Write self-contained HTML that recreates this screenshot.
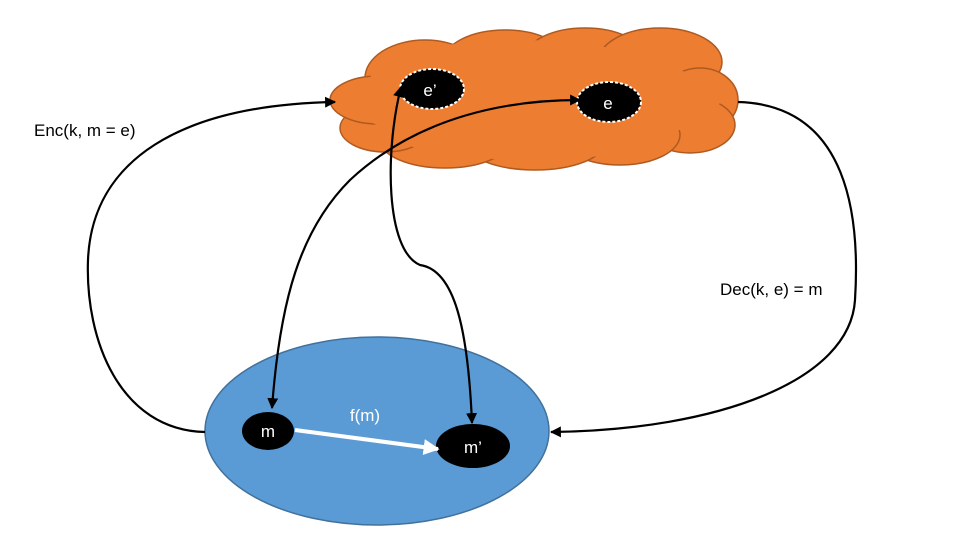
<!DOCTYPE html>
<html><head><meta charset="utf-8"><style>body{margin:0;background:#fff}svg{display:block}</style></head><body>
<svg width="960" height="540" viewBox="0 0 960 540" xmlns="http://www.w3.org/2000/svg" font-family="Liberation Sans, sans-serif">
<defs>
<marker id="a" viewBox="0 0 10 10" refX="9" refY="5" markerWidth="5" markerHeight="5" orient="auto-start-reverse"><path d="M0,0L10,5L0,10z" fill="#000"/></marker>
<marker id="w" viewBox="0 0 10 10" refX="9" refY="5" markerWidth="4" markerHeight="4" orient="auto"><path d="M0,0L10,5L0,10z" fill="#fff"/></marker>
</defs>
<g fill="#ed7d31" stroke="#ae5a21" stroke-width="1.5">
<ellipse cx="425" cy="78" rx="60" ry="38"/>
<ellipse cx="505" cy="62" rx="62" ry="32"/>
<ellipse cx="585" cy="58" rx="60" ry="30"/>
<ellipse cx="660" cy="62" rx="62" ry="34"/>
<ellipse cx="700" cy="100" rx="38" ry="32"/>
<ellipse cx="690" cy="125" rx="45" ry="28"/>
<ellipse cx="620" cy="135" rx="60" ry="30"/>
<ellipse cx="535" cy="142" rx="70" ry="28"/>
<ellipse cx="445" cy="140" rx="65" ry="28"/>
<ellipse cx="385" cy="128" rx="45" ry="24"/>
<ellipse cx="378" cy="100" rx="48" ry="24"/>
</g>
<g fill="#ed7d31">
<ellipse cx="535" cy="100" rx="185" ry="48"/>
<ellipse cx="520" cy="80" rx="150" ry="40"/>
<ellipse cx="530" cy="125" rx="150" ry="35"/>
</g>
<ellipse cx="432" cy="89" rx="32" ry="20" fill="#000" stroke="#fff" stroke-width="2" stroke-dasharray="3 2"/>
<ellipse cx="609" cy="102" rx="32" ry="20" fill="#000" stroke="#fff" stroke-width="2" stroke-dasharray="3 2"/>
<text x="430" y="96" fill="#fff" font-size="17" text-anchor="middle">e’</text>
<text x="608" y="109" fill="#fff" font-size="17" text-anchor="middle">e</text>
<ellipse cx="377" cy="431" rx="172" ry="94" fill="#5b9bd5" stroke="#41719c" stroke-width="1.5"/>
<ellipse cx="268" cy="431" rx="26" ry="19" fill="#000"/>
<ellipse cx="473" cy="446" rx="37" ry="22" fill="#000"/>
<text x="268" y="437" fill="#fff" font-size="17" text-anchor="middle">m</text>
<text x="473" y="453" fill="#fff" font-size="17" text-anchor="middle">m’</text>
<text x="365" y="421" fill="#fff" font-size="17" text-anchor="middle">f(m)</text>
<line x1="295" y1="430" x2="438" y2="449" stroke="#fff" stroke-width="4" marker-end="url(#w)"/>
<g fill="none" stroke="#000" stroke-width="2.2">
<path d="M205,432 C120,430 85,340 88,260 C92,160 180,105 335,102" marker-end="url(#a)"/>
<path d="M738,102 C850,105 860,220 855,300 C850,380 720,430 551,432" marker-end="url(#a)"/>
<path d="M272,408 C280,300 300,230 350,180 C420,115 510,100 580,100" marker-start="url(#a)" marker-end="url(#a)"/>
<path d="M401,87 C385,150 385,250 420,265 C455,270 468,330 472,423" marker-start="url(#a)" marker-end="url(#a)"/>
</g>
<text x="34" y="136" font-size="17">Enc(k, m = e)</text>
<text x="720" y="295" font-size="17">Dec(k, e) = m</text>
</svg>
</body></html>
